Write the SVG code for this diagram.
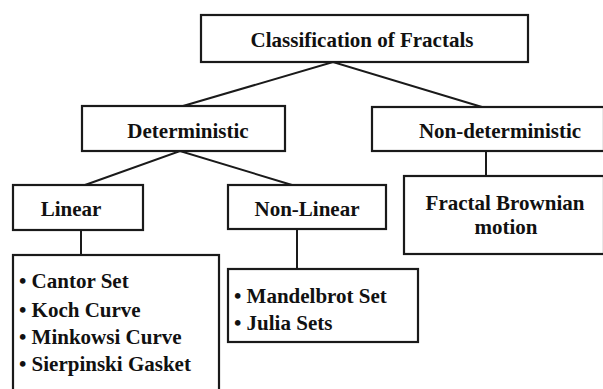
<svg xmlns="http://www.w3.org/2000/svg" width="603" height="389" viewBox="0 0 603 389">
<style>
.box{fill:#fff;stroke:#1a1a1a;stroke-width:2.2}
.t{font-family:'Liberation Serif','Times New Roman',Times,'DejaVu Serif',serif;font-weight:700;font-size:21px;fill:#111}
.c{text-anchor:middle}
.ln{stroke:#1a1a1a;stroke-width:2;fill:none}
</style>
<rect width="603" height="389" fill="#fff"/>
<g id="connectors">
<polyline class="ln" points="183,106 333,62 482,107"/>
<polyline class="ln" points="85,185 180,151 292,185"/>
<line class="ln" x1="81" y1="230" x2="81" y2="255"/>
<line class="ln" x1="297" y1="229" x2="297" y2="269"/>
<line class="ln" x1="486" y1="151" x2="486" y2="176"/>
</g>
<g id="root">
<rect class="box" x="201" y="15" width="327" height="47"/>
<text class="t c" x="362" y="47">Classification of Fractals</text>
</g>
<g id="deterministic">
<rect class="box" x="82" y="106" width="203" height="45"/>
<text class="t c" x="188" y="138">Deterministic</text>
</g>
<g id="nondeterministic">
<rect class="box" x="372" y="107" width="232" height="44"/>
<text class="t c" x="500" y="138">Non-deterministic</text>
</g>
<g id="linear">
<rect class="box" x="13" y="185" width="130" height="45"/>
<text class="t c" x="71" y="216">Linear</text>
</g>
<g id="nonlinear">
<rect class="box" x="228" y="185" width="158" height="44"/>
<text class="t c" x="307" y="216">Non-Linear</text>
</g>
<g id="fbm">
<rect class="box" x="404" y="176" width="200" height="78"/>
<text class="t c" x="505" y="210">Fractal Brownian</text>
<text class="t c" x="506" y="234">motion</text>
</g>
<g id="linear-list">
<rect class="box" x="13" y="255" width="206" height="140"/>
<text class="t" x="19" y="288">• Cantor Set</text>
<text class="t" x="19" y="317">• Koch Curve</text>
<text class="t" x="19" y="344">• Minkowsi Curve</text>
<text class="t" x="19" y="371">• Sierpinski Gasket</text>
</g>
<g id="nonlinear-list">
<rect class="box" x="228" y="269" width="190" height="73"/>
<text class="t" x="234" y="303">• Mandelbrot Set</text>
<text class="t" x="234" y="330">• Julia Sets</text>
</g>
</svg>
